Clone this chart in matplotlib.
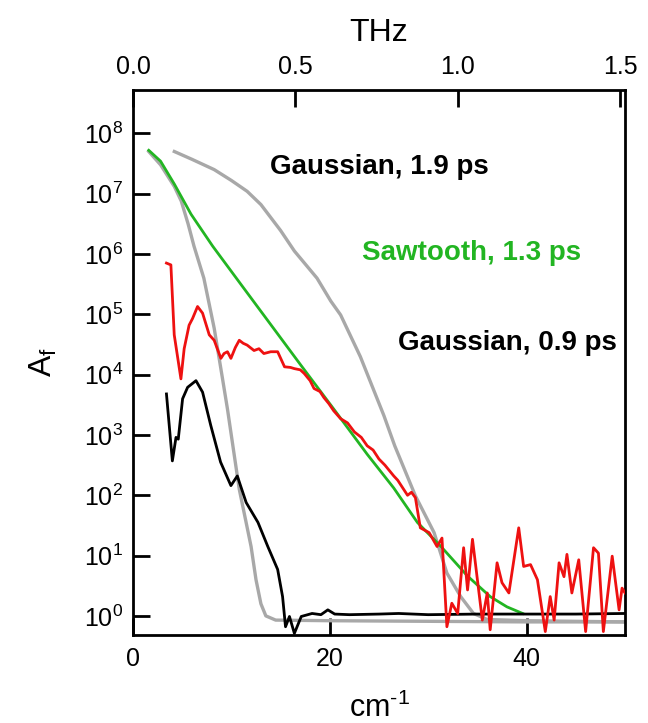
import numpy as np
import matplotlib
matplotlib.use("Agg")
import matplotlib.pyplot as plt

plt.rcParams['font.family'] = ['Liberation Sans', 'DejaVu Sans']
plt.rcParams['mathtext.fontset'] = 'custom'
plt.rcParams['mathtext.rm'] = 'Liberation Sans'
plt.rcParams['mathtext.it'] = 'Liberation Sans'
plt.rcParams['mathtext.default'] = 'regular'

# ---- data (x in cm^-1, values are log10 of A_f) ----
saw_x = [1.6, 2.8, 4.2, 5.9, 8.1, 11.0, 14.0, 17.0, 20.4, 23.8, 26.5, 28.9,
         31.3, 34.0, 36.3, 38.0, 39.6]
saw_log = [7.72, 7.54, 7.16, 6.66, 6.13, 5.49, 4.83, 4.17, 3.43, 2.68, 2.12,
           1.55, 1.15, 0.66, 0.32, 0.15, 0.04]

gn_x = [1.6, 2.8, 4.2, 4.9, 5.6, 6.2, 7.2, 8.25, 9.1, 9.6, 10.8, 12.0, 12.5,
        13.0, 13.5, 14.5, 20.0, 30.0, 40.0, 50.0]
gn_log = [7.70, 7.48, 7.12, 6.88, 6.50, 6.13, 5.60, 4.77, 3.93, 3.43, 2.10,
          1.15, 0.60, 0.20, 0.00, -0.07, -0.08, -0.09, -0.10, -0.10]

gb_x = [4.2, 6.0, 8.25, 10.0, 11.6, 13.0, 15.0, 16.4, 18.7, 20.1, 21.1, 23.1,
        25.5, 26.6, 28.7, 30.6, 31.9, 33.3, 34.6, 36.0, 40.0, 45.0, 50.0]
gb_log = [7.70, 7.57, 7.40, 7.22, 7.04, 6.82, 6.39, 6.05, 5.60, 5.22, 4.99,
          4.30, 3.32, 2.82, 1.99, 1.38, 0.71, 0.32, 0.04, -0.06, -0.08, -0.09,
          -0.10]

red_x = [3.4, 3.85, 4.19, 4.87, 5.2, 5.7, 6.05, 6.56, 7.07, 7.75, 8.25, 8.93,
         9.25, 9.6, 9.95, 10.4, 10.8, 11.2, 11.6, 12.3, 12.8, 13.3, 14.0,
         14.7, 15.4, 16.0, 16.4, 17.0, 17.4, 18.0, 18.4, 19.0, 19.4, 19.9,
         20.4, 21.1, 21.8, 22.5, 23.2, 23.8, 24.4, 25.0, 25.6, 26.5, 26.9,
         27.3, 27.9, 28.3, 28.7, 29.2, 30.1, 30.9, 31.4, 31.9, 32.4, 33.0,
         33.6, 34.0, 34.5, 35.0, 35.5, 36.0, 36.3, 37.0, 37.5, 38.2, 39.2,
         39.7, 40.4, 41.1, 41.9, 42.4, 42.8, 43.3, 43.8, 44.1, 44.6, 45.3,
         46.0, 46.8, 47.3, 47.8, 48.7, 49.4, 49.7, 50.0]
red_log = [5.85, 5.82, 4.66, 3.93, 4.43, 4.82, 4.93, 5.13, 5.02, 4.66, 4.57,
           4.27, 4.35, 4.38, 4.27, 4.45, 4.57, 4.52, 4.49, 4.40, 4.43, 4.35,
           4.38, 4.38, 4.13, 4.12, 4.10, 4.08, 4.02, 3.90, 3.77, 3.72, 3.62,
           3.52, 3.40, 3.27, 3.20, 3.05, 2.96, 2.82, 2.75, 2.60, 2.50, 2.32,
           2.25, 2.15, 2.00, 2.05, 1.96, 1.46, 1.38, 1.15, 1.29, -0.18, 0.21,
           0.04, 1.13, 0.43, 1.27, 0.60, -0.07, 0.38, -0.23, 0.88, 0.55, 0.38,
           1.46, 0.82, 0.85, 0.60, -0.26, 0.32, -0.07, 0.88, 0.65, 1.02, 0.38,
           0.93, -0.26, 1.13, 1.04, -0.26, 0.99, 0.10, 0.46, 0.38]

blk_x = [3.4, 4.0, 4.37, 4.6, 5.04, 5.55, 6.4, 7.07, 7.9, 8.9, 9.95, 10.6,
         11.5, 12.7, 13.7, 14.7, 15.2, 15.5, 15.9, 16.4, 17.1, 18.2, 19.1,
         19.8, 20.5, 22.0, 25.0, 27.0, 30.0, 35.0, 40.0, 45.0, 50.0]
blk_log = [3.68, 2.57, 2.96, 2.93, 3.60, 3.79, 3.90, 3.71, 3.16, 2.55, 2.16,
           2.32, 1.88, 1.55, 1.15, 0.77, 0.32, -0.18, -0.01, -0.29, -0.01,
           0.04, 0.02, 0.10, 0.03, 0.02, 0.03, 0.04, 0.02, 0.03, 0.03, 0.03,
           0.04]

x_ticks = [0, 20, 40]
thz_ticks = [0.0, 0.5, 1.0, 1.5]
thz_labels = ['0.0', '0.5', '1.0', '1.5']
y_ticks = [1e0, 1e1, 1e2, 1e3, 1e4, 1e5, 1e6, 1e7, 1e8]
CM_PER_THZ = 33.0

GREY = '#a8a8a8'
RED = '#ee1111'
GREEN = '#22b522'

fig = plt.figure(figsize=(6.48, 7.23), dpi=100)
ax = fig.add_axes([133/648, 88/723, 492/648, 545/723])

def p(v):
    return 10.0 ** np.asarray(v)

ax.plot(gn_x, p(gn_log), color=GREY, lw=2.4, zorder=2)
ax.plot(gb_x, p(gb_log), color=GREY, lw=2.4, zorder=2)
ax.plot(saw_x, p(saw_log), color=GREEN, lw=2.0, zorder=3)
ax.plot(blk_x, p(blk_log), color='black', lw=2.0, zorder=4)
ax.plot(red_x, p(red_log), color=RED, lw=2.0, zorder=5)

ax.set_yscale('log')
ax.set_xlim(0, 50)
ax.set_ylim(10 ** -0.317, 10 ** 8.72)
ax.set_xticks(x_ticks)
ax.set_yticks(y_ticks)
ax.yaxis.set_minor_locator(matplotlib.ticker.NullLocator())
ax.xaxis.set_minor_locator(matplotlib.ticker.NullLocator())

for s in ax.spines.values():
    s.set_linewidth(2.0)

ax.tick_params(axis='both', which='major', direction='in', length=12,
               width=2.0, labelsize=18, top=False, right=False)
ax.tick_params(axis='y', pad=7)
ax.tick_params(axis='x', pad=9)

ax.set_xlabel('cm$^{\\text{-1}}$', fontsize=22, labelpad=15)
ax.set_ylabel('A$_{f}$', fontsize=23, labelpad=18)

sec = ax.secondary_xaxis('top', functions=(lambda x: x / CM_PER_THZ,
                                           lambda t: t * CM_PER_THZ))
sec.set_xticks(thz_ticks)
sec.set_xticklabels(thz_labels)
sec.tick_params(direction='in', length=12, width=2.0, labelsize=18, pad=8)
sec.xaxis.set_minor_locator(matplotlib.ticker.NullLocator())
sec.set_xlabel('THz', fontsize=23, labelpad=10)

ax.text(0.279, 0.845, 'Gaussian, 1.9 ps', transform=ax.transAxes,
        fontsize=20, fontweight='bold', color='black', ha='left', va='baseline')
ax.text(0.465, 0.688, 'Sawtooth, 1.3 ps', transform=ax.transAxes,
        fontsize=20, fontweight='bold', color=GREEN, ha='left', va='baseline')
ax.text(0.538, 0.523, 'Gaussian, 0.9 ps', transform=ax.transAxes,
        fontsize=20, fontweight='bold', color='black', ha='left', va='baseline')

fig.savefig('out.png', dpi=100)
